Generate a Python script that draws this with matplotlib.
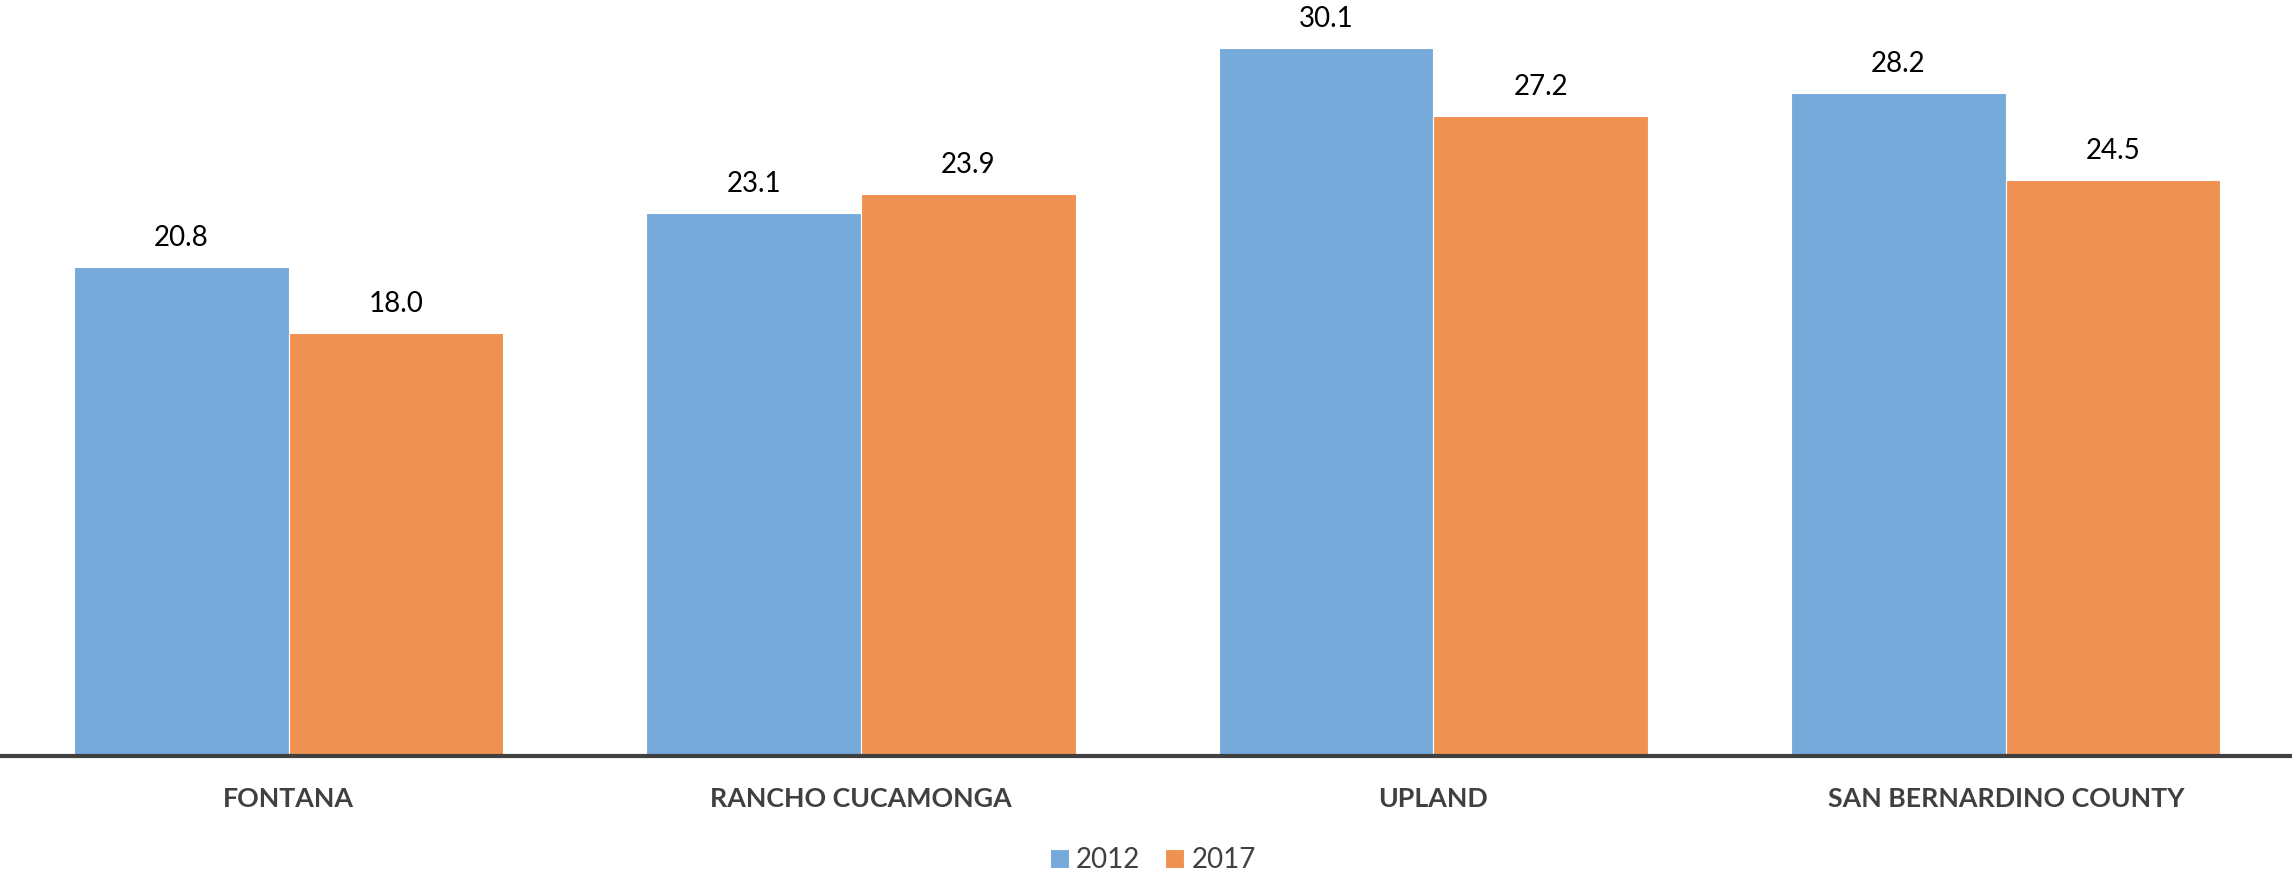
import matplotlib
matplotlib.use("Agg")
import matplotlib.pyplot as plt
import numpy as np
from matplotlib.transforms import blended_transform_factory

categories = ["FONTANA", "RANCHO CUCAMONGA", "UPLAND", "SAN BERNARDINO COUNTY"]
series_names = ["2012", "2017"]
values_2012 = [20.8, 23.1, 30.1, 28.2]
values_2017 = [18.0, 23.9, 27.2, 24.5]

plt.rcParams["font.family"] = ["Lato", "DejaVu Sans"]

DPI = 100
W, H = 2292, 875
fig = plt.figure(figsize=(W / DPI, H / DPI), dpi=DPI)
fig.patch.set_facecolor("white")

base_px = 756
ax = fig.add_axes([2.4 / W, (H - base_px) / H, (W - 2.4) / W, base_px / H])

x = np.arange(len(categories))
width = 0.375
colors = ["#75AADB", "#EF9150"]

bars = []
for k, (vals, col) in enumerate(zip([values_2012, values_2017], colors)):
    offs = (k - 0.5) * width
    b = ax.bar(x + offs, vals, width, color=col, edgecolor="#FFFFFF",
               linewidth=0.8, label=series_names[k], zorder=2)
    bars.append(b)
    for xi, v in zip(x + offs, vals):
        ax.annotate(f"{v:.1f}", (xi, v), xytext=(0, 15), textcoords="offset points",
                    ha="center", va="baseline", fontsize=20, color="#000000")

ax.set_xlim(-0.5, 3.5)
ax.set_ylim(0, 32.14)
for s in ["top", "left", "right"]:
    ax.spines[s].set_visible(False)
ax.spines["bottom"].set_color("#404040")
ax.spines["bottom"].set_linewidth(3.0)
ax.spines["bottom"].set_zorder(3)
ax.set_yticks([])
ax.set_xticks([])

trans = blended_transform_factory(ax.transData, fig.transFigure)
for xi, name in zip(x, categories):
    ax.text(xi, (H - 807) / H, name, transform=trans, ha="center", va="baseline",
            fontsize=19.3, fontweight="bold", color="#404040")

leg = fig.legend(handles=bars, labels=series_names, loc="center",
                 bbox_to_anchor=(1153 / W, (H - 860) / H), ncol=2, frameon=False,
                 fontsize=20, handlelength=0.68, handleheight=0.68,
                 handletextpad=0.25, columnspacing=0.9, borderpad=0)
for t in leg.get_texts():
    t.set_color("#404040")

fig.savefig("out.png", dpi=DPI)
